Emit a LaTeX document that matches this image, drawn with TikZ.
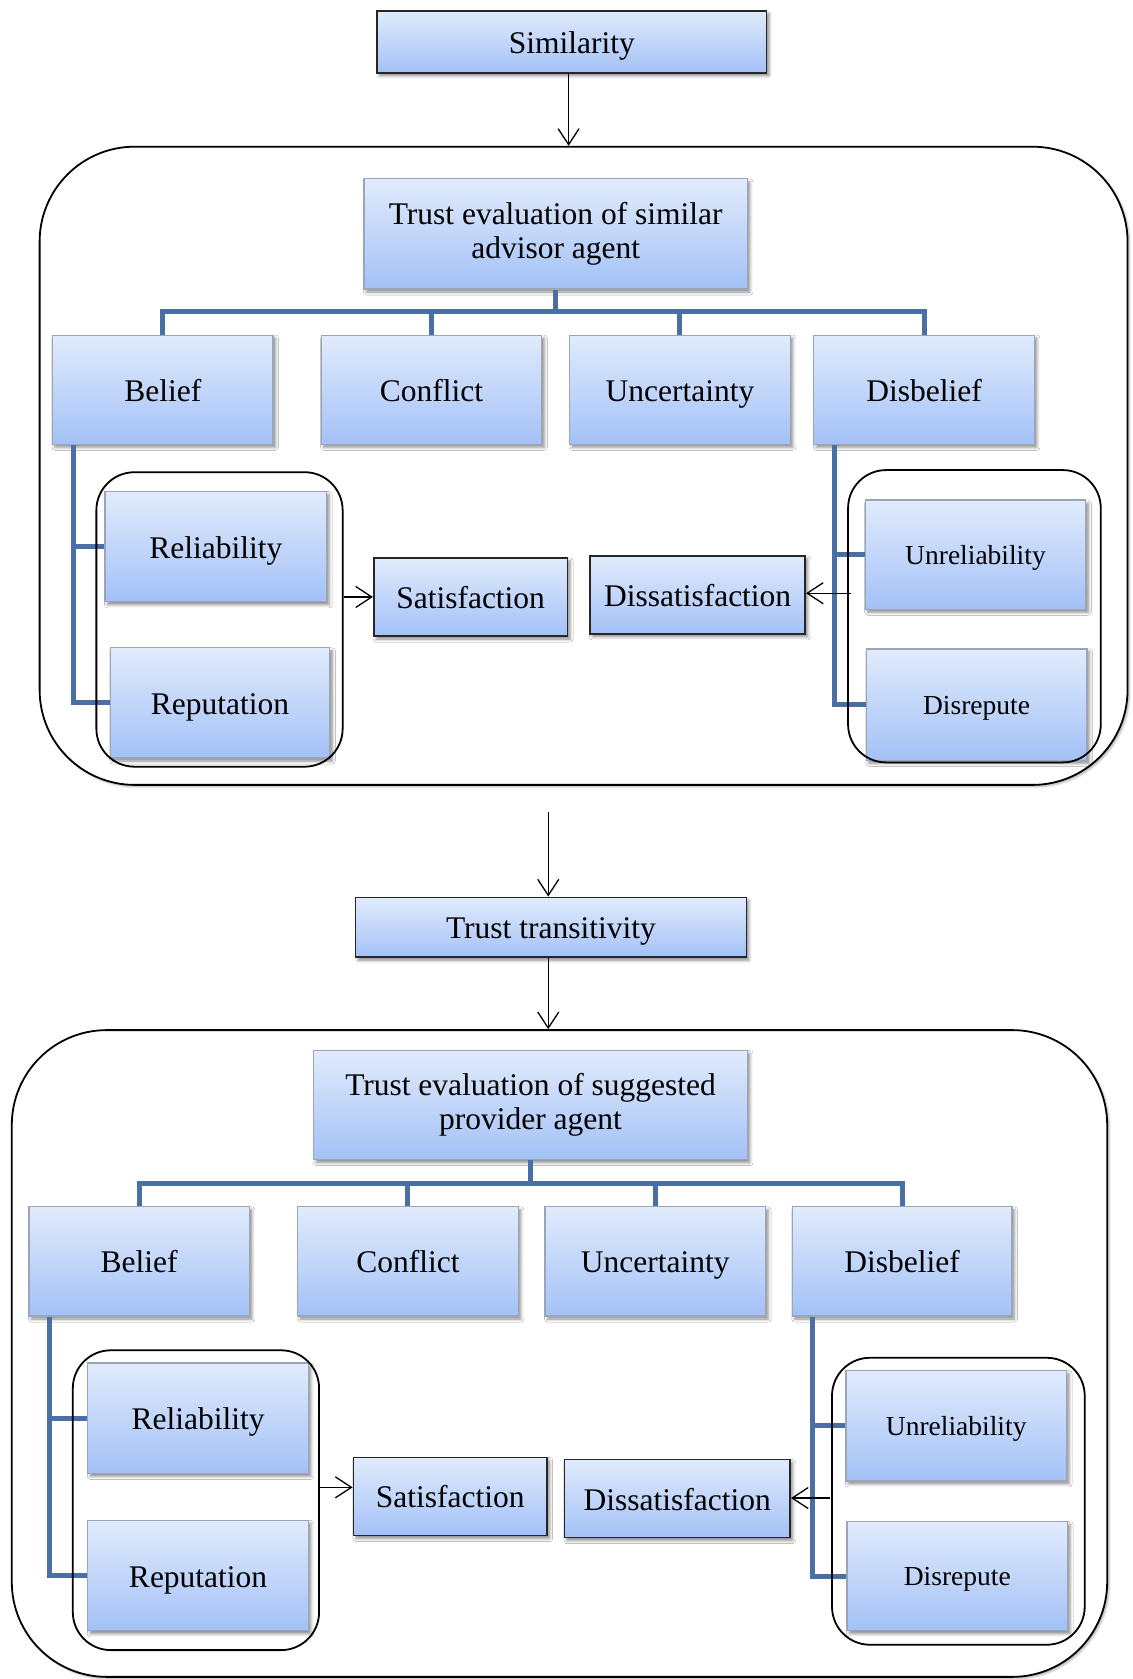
\documentclass[tikz,border=0pt]{standalone}
\usepackage{fontspec}
\setmainfont{Liberation Serif}
\usetikzlibrary{arrows.meta,shadows.blur}
\definecolor{boxtop}{HTML}{E1EBFC}
\definecolor{boxbot}{HTML}{A3C1F7}
\definecolor{boxedge}{HTML}{9AA6B8}
\definecolor{treeblue}{HTML}{4A6FA5}

% \bx{style}{name}{x1}{y1}{x2}{y2}{text}: a box given by two opposite corners
\newcommand\bx[7]{%
  \pgfmathsetmacro\bxw{(#5-#3)*1.0709}%
  \pgfmathsetmacro\bxh{(#6-#4)*1.0709}%
  \node[#1, minimum width=\bxw pt, minimum height=\bxh pt] (#2) at ({(#3+#5)/2},{(#4+#6)/2}) {#7};}

\begin{document}
\begin{tikzpicture}[x=1.0709pt,y=-1.0709pt,
  every node/.style={font=\fontsize{31.5}{34}\selectfont},
  base/.style={inner sep=0pt, align=center, top color=boxtop, bottom color=boxbot,
    text height=23pt, text depth=0pt,
    blur shadow={shadow xshift=2.5pt, shadow yshift=-3pt, shadow blur radius=3pt, shadow opacity=45}},
  twoline/.style={text height=, text depth=},
  cat/.style={base, draw=boxedge, line width=1.3pt},
  key/.style={base, draw=black!85, line width=1.6pt},
  small/.style={font=\fontsize{27.5}{30}\selectfont, text height=19.5pt, text depth=0pt},
  panel/.style={inner sep=0pt, draw=black, line width=1.8pt, fill=white, rounded corners=95pt,
    blur shadow={shadow xshift=2pt, shadow yshift=-2pt, shadow blur radius=2pt, shadow opacity=30}},
  group/.style={inner sep=0pt, draw=black, line width=1.8pt, rounded corners=38pt},
  tree/.style={draw=treeblue, line width=5pt},
  flow/.style={draw=black, line width=1.3pt, -{Straight Barb[length=16pt,width=21pt,line width=1.3pt]}}]

\useasboundingbox (0,0) rectangle (1058,1568);

% ---------- outer panels ----------
\bx{panel}{pan1}{37}{137}{1053}{733}{}
\bx{panel}{pan2}{11}{962}{1034}{1566}{}

% ---------- helper coordinates ----------
\coordinate (h1) at (0,291);
\coordinate (h2) at (0,1105);
\coordinate (jb1) at (69,0);
\coordinate (jd1) at (779,0);
\coordinate (jb2) at (46,0);
\coordinate (jd2) at (759,0);

% ---------- top box ----------
\bx{key}{sim}{352}{10}{716}{68}{Similarity}

% ---------- first evaluation ----------
\bx{cat,twoline}{t1}{340}{167}{698}{270}{Trust evaluation of similar\\advisor agent}
\bx{cat}{b1}{49}{313}{255}{415}{Belief}
\bx{cat}{c1}{300}{313}{506}{415}{Conflict}
\bx{cat}{u1}{532}{313}{738}{415}{Uncertainty}
\bx{cat}{d1}{760}{313}{966}{415}{Disbelief}

\draw[tree] (t1.south) -- (t1.south |- h1);
\draw[tree] (b1.north) -- (b1.north |- h1) -- (d1.north |- h1) -- (d1.north);
\draw[tree] (c1.north) -- (c1.north |- h1);
\draw[tree] (u1.north) -- (u1.north |- h1);

\bx{cat}{rel1}{98}{459}{305}{562}{Reliability}
\bx{cat}{rep1}{103}{605}{308}{708}{Reputation}
\bx{cat,small}{unr1}{808}{467}{1014}{569}{Unreliability}
\bx{cat,small}{dis1}{809}{606}{1015}{710}{Disrepute}

\draw[tree] (b1.south -| jb1) |- (rel1.west);
\draw[tree] (b1.south -| jb1) |- (rep1.west);
\draw[tree] (d1.south -| jd1) |- (unr1.west);
\draw[tree] (d1.south -| jd1) |- (dis1.west);

\bx{group}{g1}{90}{441}{320}{716}{}
\bx{group}{g2}{792}{439}{1028}{712}{}

\bx{key}{sat1}{349}{521}{530}{594}{Satisfaction}
\bx{key}{dsat1}{551}{519}{752}{592}{Dissatisfaction}
\coordinate (ds1) at (795,554);

\draw[flow] (sat1.west -| g1.east) -- (sat1.west);
\draw[flow] (ds1) -- (ds1 -| dsat1.east);

\coordinate (s0) at (531,0);
\draw[flow] (sim.south -| s0) -- (s0 |- pan1.north);

% ---------- transitivity ----------
\bx{key}{tt}{332}{838}{697}{894}{Trust transitivity}
\coordinate (m0) at (512,758);
\draw[flow] (m0) -- (m0 |- tt.north);
\draw[flow] (tt.south -| m0) -- (m0 |- pan2.north);

% ---------- second evaluation ----------
\bx{cat,twoline}{t2}{293}{981}{698}{1083}{Trust evaluation of suggested\\provider agent}
\bx{cat}{b2}{27}{1127}{233}{1229}{Belief}
\bx{cat}{c2}{278}{1127}{484}{1229}{Conflict}
\bx{cat}{u2}{509}{1127}{715}{1229}{Uncertainty}
\bx{cat}{d2}{740}{1127}{945}{1229}{Disbelief}

\draw[tree] (t2.south) -- (t2.south |- h2);
\draw[tree] (b2.north) -- (b2.north |- h2) -- (d2.north |- h2) -- (d2.north);
\draw[tree] (c2.north) -- (c2.north |- h2);
\draw[tree] (u2.north) -- (u2.north |- h2);

\bx{cat}{rel2}{82}{1273}{288}{1376}{Reliability}
\bx{cat}{rep2}{82}{1420}{288}{1523}{Reputation}
\bx{cat,small}{unr2}{790}{1280}{996}{1383}{Unreliability}
\bx{cat,small}{dis2}{791}{1421}{997}{1523}{Disrepute}

\draw[tree] (b2.south -| jb2) |- (rel2.west);
\draw[tree] (b2.south -| jb2) |- (rep2.west);
\draw[tree] (d2.south -| jd2) |- (unr2.west);
\draw[tree] (d2.south -| jd2) |- (dis2.west);

\bx{group}{g3}{68}{1261}{298}{1541}{}
\bx{group}{g4}{777}{1268}{1013}{1536}{}

\bx{key}{sat2}{330}{1361}{511}{1434}{Satisfaction}
\bx{key}{dsat2}{527}{1363}{738}{1436}{Dissatisfaction}
\coordinate (sa2) at (0,1389);
\coordinate (ds2) at (775,1399);

\draw[flow] (g3.east |- sa2) -- (sat2.west |- sa2);
\draw[flow] (ds2) -- (ds2 -| dsat2.east);

\end{tikzpicture}
\end{document}
